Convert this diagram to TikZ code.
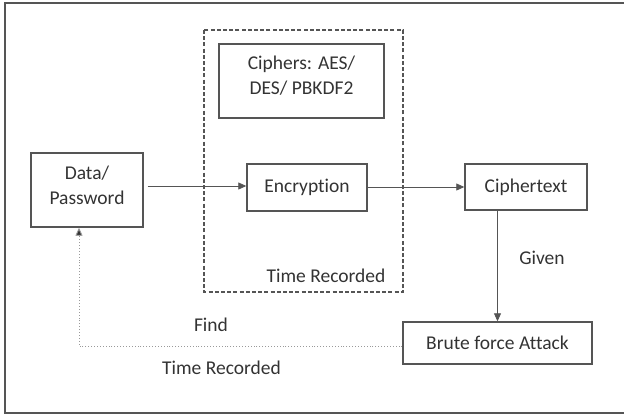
\documentclass[tikz,border=0pt]{standalone}
\usepackage{fontspec}
\setmainfont{Carlito}[Ligatures={NoCommon}]
\usetikzlibrary{arrows.meta}
\definecolor{inkgray}{HTML}{333333}
\definecolor{linegray}{HTML}{555555}
\definecolor{dotgray}{HTML}{9A9A9A}
% invisible depth that lifts two-line box text a little above centre
\newcommand{\liftstrut}[1]{\rule[-#1]{0pt}{0pt}}
\tikzset{
  lbl/.style={font=\fontsize{19.5}{25.5}\selectfont, text=inkgray, inner sep=0pt},
  procbox/.style={lbl, draw=linegray, line width=1.4pt, align=center},
  flow/.style={draw=linegray, line width=0.8pt, -{Triangle[length=8pt,width=7pt]}},
  backflow/.style={draw=dotgray, line width=0.9pt, dotted, -{Triangle[length=8pt,width=7pt,fill=inkgray]}},
}
\begin{document}
\begin{tikzpicture}[x=1pt,y=-1pt]
  \useasboundingbox (0,0) rectangle (624,415);
  % outer frame, open on the right where it runs past the page
  \begin{scope}
    \clip (0,0) rectangle (624,415);
    \draw[line width=2pt, color=linegray] (5,3) rectangle (650,413);
  \end{scope}

  % dashed timing region around the encryption stage
  \draw[line width=2pt, color=linegray, dash pattern=on 4pt off 2.2pt] (204,30) rectangle (403,292);

  % boxes
  \node[procbox, minimum width=165pt, minimum height=74pt] (ciph) at (301.5,81)
    {Ciphers: AES/\\DES/ PBKDF2\liftstrut{12pt}};
  \node[procbox, minimum width=112pt, minimum height=74pt] (data) at (87,190)
    {Data/\\Password\liftstrut{10pt}};
  \node[procbox, minimum width=120pt, minimum height=47pt] (enc) at (307,187.5)
    {Encryption};
  \node[procbox, minimum width=122pt, minimum height=46pt] (ctext) at (526,187)
    {Ciphertext};
  \node[procbox, minimum width=189pt, minimum height=42pt] (brute) at (497.5,343)
    {Brute force Attack};

  % labels
  \node[lbl] (given) at (542,258) {Given};
  \node[lbl] (tr1) at (326,276) {Time Recorded};
  \node[lbl] (find) at (211,325) {Find};
  \node[lbl] (tr2) at (221.5,368) {Time Recorded};

  % connectors
  \draw[flow, shorten <=4pt] (data.east |- 0,186) -- (enc.west |- 0,186);
  \draw[flow] (enc.east |- 0,187) -- (ctext.west |- 0,187);
  \draw[flow] (brute.north |- ctext.south) -- (brute.north);

  \coordinate (bend) at (79,346);
  \draw[backflow] (brute.west |- bend) -- (bend) -- (bend |- data.south);
\end{tikzpicture}
\end{document}
